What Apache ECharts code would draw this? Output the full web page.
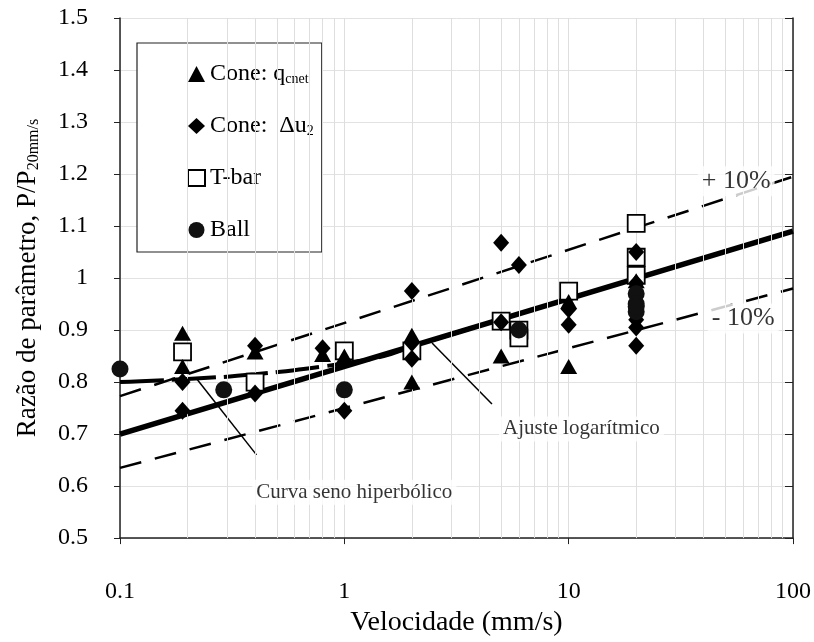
<!DOCTYPE html>
<html><head><meta charset="utf-8">
<script src="https://cdn.jsdelivr.net/npm/echarts@6/dist/echarts.min.js"></script>
<style>html,body{margin:0;padding:0;background:#fff}#c{width:814px;height:642px}</style>
</head><body><div id="c"></div>
<script>
// ---- data ----
const xMinorGrid = [0.2,0.3,0.4,0.5,0.6,0.7,0.8,0.9,2,3,4,5,6,7,8,9,20,30,40,50,60,70,80,90];
const coneQcnet = [[0.19,0.894],[0.19,0.83],[0.4,0.858],[0.8,0.853],[1,0.85],[2,0.89],[2,0.80],[5,0.85],[10,0.955],[10,0.83],[20,0.995],[20,0.96]];
const coneDu2 = [[0.19,0.80],[0.19,0.745],[0.4,0.87],[0.4,0.778],[0.8,0.865],[1,0.745],[2,0.975],[2,0.875],[2,0.845],[5,1.068],[5,0.915],[6,1.025],[10,0.94],[10,0.91],[20,1.05],[20,0.99],[20,0.92],[20,0.905],[20,0.87]];
const tbar = [[0.19,0.858],[0.4,0.80],[1,0.86],[2,0.86],[5,0.917],[6,0.9],[6,0.885],[10,0.975],[20,1.105],[20,1.04],[20,1.005]];
const ball = [[0.1,0.825],[0.29,0.785],[1,0.785],[6,0.9],[20,0.97],[20,0.95],[20,0.935],[20,0.945]];
const logFit = [[0.1,0.70],[100,1.09]];
const upper10 = [[0.1,0.773],[100,1.195]];
const lower10 = [[0.1,0.635],[100,0.98]];
const sinhCurve = [[0.1,0.80],[0.2,0.806],[0.4,0.815],[0.8,0.83],[1,0.836],[1.5,0.85],[2,0.868],[3,0.892],[5,0.921]];
const leaderCurva = [[0.22,0.806],[0.406,0.66]];
const leaderAjuste = [[2.46,0.875],[4.55,0.758]];
const noteText = ['Curva seno hiperbólico','Ajuste logarítmico','+ 10%','- 10%'];
const noteX = [1.107, 11.4, 55.8, 60];
const noteY = [0.588, 0.71, 1.186, 0.922];
const seriesNames = ['Cone: qcnet','Cone: Δu2','T-bar','Ball'];
const legendLabels = ['Cone: q{s|cnet}','Cone:  Δu{s|2}','T-bar','Ball'];

const FONT = 'Liberation Serif';
const INK = '#000';
const chart = echarts.init(document.getElementById('c'));
const numFmt = v => String(+(+v).toPrecision(3));

const notesData = noteText.map((t,i)=>({value:[noteX[i],noteY[i]], name:t,
  label:{fontSize: i>=2?26:21}}));

chart.setOption({
  backgroundColor:'#fff',
  animation:false,
  grid:{left:120,right:19,top:18,bottom:91,containLabel:false},
  legend:{
    data:seriesNames, orient:'vertical', left:137, top:43,
    backgroundColor:'#fff', borderColor:'#222', borderWidth:1.2,
    padding:[19,8,10,50], itemGap:28, itemWidth:17, itemHeight:16,
    formatter: n => legendLabels[seriesNames.indexOf(n)],
    textStyle:{fontFamily:FONT,fontSize:24,color:INK,
      rich:{s:{fontFamily:FONT,fontSize:14,color:INK,padding:[10,0,0,0]}}}
  },
  xAxis:{type:'log',logBase:10,min:0.1,max:100,
    axisLine:{lineStyle:{color:'#222',width:1.5}},
    axisTick:{show:true,length:6,lineStyle:{color:'#222'}},
    axisLabel:{formatter:numFmt,fontFamily:FONT,fontSize:24,color:INK,margin:42},
    splitLine:{show:true,lineStyle:{color:'#dedede',width:1}},
    name:'Velocidade (mm/s)',nameLocation:'middle',nameGap:70,
    nameTextStyle:{fontFamily:FONT,fontSize:28,color:INK}
  },
  yAxis:[{type:'value',min:0.5,max:1.5,interval:0.1,
    axisLine:{show:true,lineStyle:{color:'#222',width:1.5}},
    axisTick:{show:true,length:6,lineStyle:{color:'#222'}},
    axisLabel:{formatter:numFmt,fontFamily:FONT,fontSize:24,color:INK,margin:32},
    splitLine:{show:true,lineStyle:{color:'#e2e2e2',width:1}},
    name:'Razão de parâmetro, P/P{s|20mm/s}',nameLocation:'middle',nameGap:78,
    nameTextStyle:{fontFamily:FONT,fontSize:27,color:INK,
      rich:{s:{fontFamily:FONT,fontSize:16,color:INK,padding:[12,0,0,0]}}}
  },{type:'value',min:0.5,max:1.5,interval:0.1,position:'right',
    axisLine:{show:true,lineStyle:{color:'#222',width:1.5}},
    axisTick:{show:true,inside:true,length:8,lineStyle:{color:'#222'}},
    axisLabel:{show:false},splitLine:{show:false}}],
  series:[
    {type:'line',name:'minor',data:[],silent:true,
      markLine:{silent:true,symbol:'none',label:{show:false},
        lineStyle:{color:'#dedede',width:1,type:'solid'},
        data:xMinorGrid.map(v=>({xAxis:v}))}},
    {type:'line',name:'upper',data:upper10,showSymbol:false,symbol:'none',
      lineStyle:{color:INK,width:2.5,type:[22,14]},z:3},
    {type:'line',name:'lower',data:lower10,showSymbol:false,symbol:'none',
      lineStyle:{color:INK,width:2.5,type:[22,14]},z:3},
    {type:'line',name:'log',data:logFit,showSymbol:false,symbol:'none',
      lineStyle:{color:INK,width:5.5},z:4},
    {type:'line',name:'sinh',data:sinhCurve,smooth:true,showSymbol:false,symbol:'none',
      lineStyle:{color:INK,width:4,type:[44,8]},z:4},
    {type:'line',name:'lead1',data:leaderCurva,showSymbol:false,symbol:'none',
      lineStyle:{color:INK,width:1.5},z:4},
    {type:'line',name:'lead2',data:leaderAjuste,showSymbol:false,symbol:'none',
      lineStyle:{color:INK,width:1.5},z:4},
    {type:'scatter',name:seriesNames[0],data:coneQcnet,symbol:'triangle',symbolSize:[17,15],
      itemStyle:{color:INK,opacity:1},z:6},
    {type:'scatter',name:seriesNames[1],data:coneDu2,symbol:'diamond',symbolSize:[16,18],
      itemStyle:{color:INK,opacity:1},z:6},
    {type:'scatter',name:seriesNames[2],data:tbar,symbol:'rect',symbolSize:17,
      itemStyle:{color:'#fff',borderColor:INK,borderWidth:1.8,opacity:1},z:5},
    {type:'scatter',name:seriesNames[3],data:ball,symbol:'circle',symbolSize:17,
      itemStyle:{color:'#111',opacity:1},z:6},
    {type:'scatter',name:'notes',data:notesData,symbolSize:0,silent:true,z:8,
      label:{show:true,position:'inside',formatter:p=>p.name,fontFamily:FONT,color:INK,
        backgroundColor:'#fff',padding:[2,4]}}
  ]
});
</script></body></html>
